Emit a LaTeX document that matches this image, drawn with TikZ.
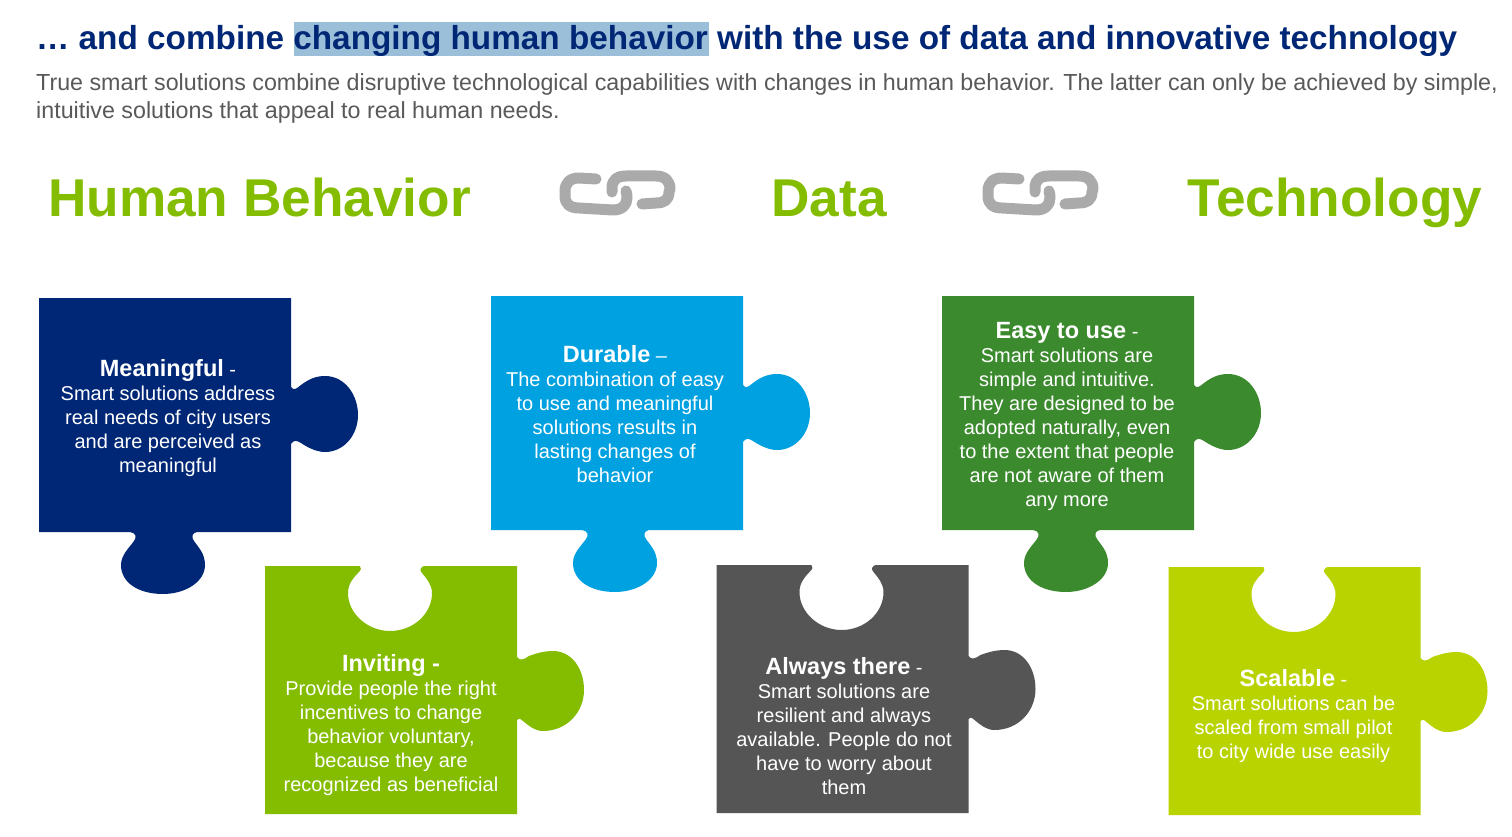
\documentclass[tikz,border=0pt]{standalone}
\usepackage{fontspec}
\setmainfont{Liberation Sans}
\definecolor{navy}{RGB}{0,39,118}
\definecolor{sky}{RGB}{0,161,224}
\definecolor{forest}{RGB}{60,138,46}
\definecolor{leaf}{RGB}{132,188,0}
\definecolor{slate}{RGB}{85,85,85}
\definecolor{lime}{RGB}{185,211,0}
\definecolor{hilite}{RGB}{155,190,217}
\definecolor{titleblue}{RGB}{0,39,118}
\definecolor{subgray}{RGB}{89,89,89}
\definecolor{linkgray}{RGB}{170,170,170}
\tikzset{
  x=1pt,y=-1pt,
  title/.style={anchor=base west,inner sep=0pt,font=\fontsize{33.3}{36}\selectfont\bfseries,text=titleblue},
  subtitle/.style={anchor=base west,inner sep=0pt,font=\fontsize{23.25}{28}\selectfont,text=subgray},
  head/.style={anchor=base,inner sep=0pt,font=\fontsize{53.2}{60}\selectfont\bfseries,text=leaf},
  piecetext/.style={anchor=center,inner sep=0pt,align=center,text=white,font=\fontsize{20}{24}\selectfont},
  link/.style={draw=linkgray,line width=11pt,line cap=round,line join=round}
}
\newcommand{\pbold}[1]{{\fontsize{23.5}{24}\selectfont\bfseries #1}}
\newcommand{\tabright}{
  -- (252,89) .. controls (255,93) and (257,91) .. (262,87)
  .. controls (270,81) and (277,78) .. (286,78)
  .. controls (306,78) and (319,97) .. (319,117)
  .. controls (319,137) and (305,154) .. (286,154)
  .. controls (277,154) and (268,149) .. (262,145)
  .. controls (257,142) and (255,142) .. (252,146)}
% taller variant used by the lower row
\newcommand{\tabrightlow}{
  -- (252,91) .. controls (255,95) and (258,94) .. (264,90)
  .. controls (272,87) and (280,85) .. (288,85)
  .. controls (307,85) and (319,103) .. (319,124)
  .. controls (319,146) and (302,165) .. (278,165)
  .. controls (270,165) and (264,160) .. (258,155)
  .. controls (255,152) and (253,152) .. (252,154)}
\newcommand{\tabbottom}{
  -- (158,234) .. controls (153,235) and (152,239) .. (155,243)
  .. controls (160,250) and (166,256) .. (166,267)
  .. controls (166,284) and (146,296) .. (124,296)
  .. controls (100,296) and (82,285) .. (82,267)
  .. controls (82,257) and (90,250) .. (95,243)
  .. controls (98,239) and (97,235) .. (91,234)}
\newcommand{\notchtop}{
  -- (95,0) .. controls (97,2) and (96,4) .. (93,7)
  .. controls (88,12) and (83,18) .. (83,27)
  .. controls (83,48) and (103,65) .. (125,65)
  .. controls (148,65) and (167,48) .. (167,27)
  .. controls (167,19) and (162,13) .. (157,7)
  .. controls (154,4) and (156,1) .. (159,0)}
\newcommand{\linkicon}[2]{
  \begin{scope}[shift={(#1,#2)}]
    \draw[link] (-3,0) -- (-20,-1) .. controls (-29,-1) and (-34,4) .. (-34,12)
      -- (-34,17) .. controls (-34,25) and (-29,29) .. (-20,29)
      -- (14,31) .. controls (23,31) and (28,26) .. (28,19) .. controls (28,17) and (28,15) .. (27,12);
    \draw[link] (13,13) -- (13,9) .. controls (13,1) and (18,-3) .. (27,-3)
      -- (57,-3) .. controls (66,-3) and (71,2) .. (71,10)
      -- (70,13) .. controls (70,21) and (65,24) .. (57,24) -- (43,25);
  \end{scope}}
\begin{document}
\begin{tikzpicture}
\useasboundingbox (0,0) rectangle (1512,837);
\fill[white] (0,0) rectangle (1512,837);
\fill[hilite] (294,22) rectangle (709,56);
\node[title] (maintitle) at (36,50) {… and combine changing human behavior with the use of data and innovative technology};
\node[subtitle] (subone) at (36,91) {True smart solutions combine disruptive technological capabilities with changes in human behavior. The latter can only be achieved by simple,};
\node[subtitle] (subtwo) at (36,119) {intuitive solutions that appeal to real human needs.};
\node[head] (hhuman) at (259.5,216) {Human Behavior};
\node[head] (hdata) at (829,216) {Data};
\node[head] (htech) at (1335,216) {Technology};
\linkicon{599}{179}
\linkicon{1022}{179}
% Meaningful
\begin{scope}[shift={(39,298)}]
  \fill[navy] (0,0) -- (252,0) \tabright -- (252,234) \tabbottom -- (0,234) -- cycle;
\end{scope}
\node[piecetext] (meaningful) at (168,418.5) {\pbold{Meaningful} -\\Smart solutions address\\real needs of city users\\and are perceived as\\meaningful};
% Durable
\begin{scope}[shift={(491,296)}]
  \fill[sky] (0,0) -- (252,0) \tabright -- (252,234) \tabbottom -- (0,234) -- cycle;
\end{scope}
\node[piecetext] (durable) at (615,414) {\pbold{Durable} –\\The combination of easy\\to use and meaningful\\solutions results in\\lasting changes of\\behavior};
% Easy to use
\begin{scope}[shift={(942,296)}]
  \fill[forest] (0,0) -- (252,0) \tabright -- (252,234) \tabbottom -- (0,234) -- cycle;
\end{scope}
\node[piecetext] (easy) at (1067,416) {\pbold{Easy to use} -\\Smart solutions are\\simple and intuitive.\\They are designed to be\\adopted naturally, even\\to the extent that people\\are not aware of them\\any more};
% Inviting
\begin{scope}[shift={(265,566)}]
  \fill[leaf] (0,0) \notchtop -- (252,0) \tabrightlow -- (252,248) -- (0,248) -- cycle;
\end{scope}
\node[piecetext] (inviting) at (391,725) {\pbold{Inviting -}\\Provide people the right\\incentives to change\\behavior voluntary,\\because they are\\recognized as beneficial};
% Always there
\begin{scope}[shift={(716.5,565)}]
  \fill[slate] (0,0) \notchtop -- (252,0) \tabrightlow -- (252,248) -- (0,248) -- cycle;
\end{scope}
\node[piecetext] (always) at (844,726) {\pbold{Always there} -\\Smart solutions are\\resilient and always\\available. People do not\\have to worry about\\them};
% Scalable
\begin{scope}[shift={(1168.5,567)}]
  \fill[lime] (0,0) \notchtop -- (252,0) \tabrightlow -- (252,248) -- (0,248) -- cycle;
\end{scope}
\node[piecetext] (scalable) at (1293.5,716) {\pbold{Scalable} -\\Smart solutions can be\\scaled from small pilot\\to city wide use easily};
\end{tikzpicture}
\end{document}
